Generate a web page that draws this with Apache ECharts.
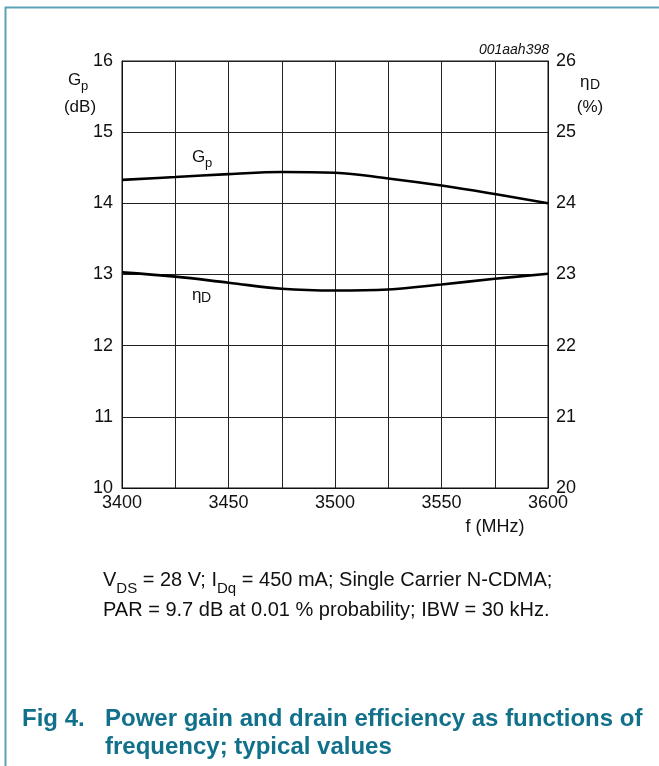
<!DOCTYPE html>
<html>
<head>
<meta charset="utf-8">
<script src="https://cdn.jsdelivr.net/npm/echarts@6/dist/echarts.min.js"></script>
<style>
  html, body { margin: 0; padding: 0; background: #fff; }
  #chart { width: 659px; height: 766px; }
</style>
</head>
<body>
<div id="chart"></div>
<script>
// Frequency points (MHz)
var freq = [3400, 3425, 3450, 3475, 3500, 3525, 3550, 3575, 3600];
// Power gain Gp (dB)
var gainDb = [14.33, 14.37, 14.41, 14.44, 14.43, 14.35, 14.25, 14.13, 14.0];
// Drain efficiency ηD (%)
var effPct = [23.03, 22.97, 22.885, 22.80, 22.775, 22.79, 22.86, 22.94, 23.01];
// X tick labels shown
var xTickLabels = [3400, 3450, 3500, 3550, 3600];

var FONT = 'Liberation Sans, Arial, sans-serif';

function pairs(xs, ys) {
  return xs.map(function (x, i) { return [x, ys[i]]; });
}

var chart = echarts.init(document.getElementById('chart'), null, { renderer: 'canvas' });

var gridLine = { show: true, lineStyle: { color: '#222', width: 1 } };
var axisTxt = { color: '#111', fontSize: 18, fontFamily: FONT };

chart.setOption({
  backgroundColor: '#fff',
  animation: false,
  grid: { left: 122, top: 61, width: 426, height: 427, show: true, borderColor: '#111', borderWidth: 1 },
  xAxis: {
    type: 'value', min: 3400, max: 3600, interval: 25,
    axisLine: { show: true, lineStyle: { color: '#111' } },
    axisTick: { show: false },
    splitLine: gridLine,
    axisLabel: Object.assign({
      margin: 6,
      formatter: function (v) { return xTickLabels.indexOf(v) >= 0 ? String(v) : ''; }
    }, axisTxt)
  },
  yAxis: [{
    type: 'value', min: 10, max: 16, interval: 1, position: 'left',
    axisLine: { show: true, lineStyle: { color: '#111' } },
    axisTick: { show: false },
    splitLine: gridLine,
    axisLabel: Object.assign({ margin: 9 }, axisTxt)
  }, {
    type: 'value', min: 20, max: 26, interval: 1, position: 'right',
    axisLine: { show: true, lineStyle: { color: '#111' } },
    axisTick: { show: false },
    splitLine: { show: false },
    axisLabel: Object.assign({ margin: 8 }, axisTxt)
  }],
  series: [{
    name: 'Gp', type: 'line', yAxisIndex: 0, smooth: 0.4, symbol: 'none',
    lineStyle: { color: '#000', width: 2.6 },
    data: pairs(freq, gainDb)
  }, {
    name: 'ηD', type: 'line', yAxisIndex: 1, smooth: 0.4, symbol: 'none',
    lineStyle: { color: '#000', width: 2.6 },
    data: pairs(freq, effPct)
  }],
  graphic: [
    // outer frame
    { type: 'polyline', shape: { points: [[5.5, 766], [5.5, 7.5], [659, 7.5]] },
      style: { stroke: '#5aa3b5', lineWidth: 2, fill: null } },
    // drawing id
    { type: 'text', x: 549, y: 50, style: { text: '001aah398', font: 'italic 14px ' + FONT, fill: '#111', align: 'right', verticalAlign: 'middle' } },
    // left axis title
    { type: 'text', x: 68, y: 80, style: { text: 'G', font: '17px ' + FONT, fill: '#111', verticalAlign: 'middle' } },
    { type: 'text', x: 81, y: 86, style: { text: 'p', font: '13px ' + FONT, fill: '#111', verticalAlign: 'middle' } },
    { type: 'text', x: 80, y: 107, style: { text: '(dB)', font: '17px ' + FONT, fill: '#111', align: 'center', verticalAlign: 'middle' } },
    // right axis title
    { type: 'text', x: 580, y: 82, style: { text: 'η', font: '17px ' + FONT, fill: '#111', verticalAlign: 'middle' } },
    { type: 'text', x: 590, y: 85, style: { text: 'D', font: '14px ' + FONT, fill: '#111', verticalAlign: 'middle' } },
    { type: 'text', x: 590, y: 107, style: { text: '(%)', font: '17px ' + FONT, fill: '#111', align: 'center', verticalAlign: 'middle' } },
    // curve labels
    { type: 'text', x: 192, y: 157, style: { text: 'G', font: '17px ' + FONT, fill: '#111', verticalAlign: 'middle' } },
    { type: 'text', x: 205, y: 163, style: { text: 'p', font: '13px ' + FONT, fill: '#111', verticalAlign: 'middle' } },
    { type: 'text', x: 192, y: 295, style: { text: 'η', font: '17px ' + FONT, fill: '#111', verticalAlign: 'middle' } },
    { type: 'text', x: 201, y: 298, style: { text: 'D', font: '14px ' + FONT, fill: '#111', verticalAlign: 'middle' } },
    // x axis title
    { type: 'text', x: 495, y: 527, style: { text: 'f (MHz)', font: '18px ' + FONT, fill: '#111', align: 'center', verticalAlign: 'middle' } },
    // conditions
    { type: 'text', x: 103, y: 570, style: {
        text: '{n|V}{s|DS}{n| = 28 V; I}{s|Dq}{n| = 450 mA; Single Carrier N-CDMA;}',
        fill: '#111',
        rich: {
          n: { fontSize: 20, fontFamily: FONT, lineHeight: 23, verticalAlign: 'top', fill: '#111' },
          s: { fontSize: 15, fontFamily: FONT, lineHeight: 16, verticalAlign: 'top', padding: [11, 0, 0, 0], fill: '#111' }
        } } },
    { type: 'text', x: 103, y: 610, style: { text: 'PAR = 9.7 dB at 0.01 % probability; IBW = 30 kHz.', font: '20px ' + FONT, fill: '#111', verticalAlign: 'middle' } },
    // figure caption
    { type: 'text', x: 22, y: 719, style: { text: 'Fig 4.', font: 'bold 24px ' + FONT, fill: '#11708a', verticalAlign: 'middle' } },
    { type: 'text', x: 105, y: 719, style: { text: 'Power gain and drain efficiency as functions of', font: 'bold 24px ' + FONT, fill: '#11708a', verticalAlign: 'middle' } },
    { type: 'text', x: 105, y: 747, style: { text: 'frequency; typical values', font: 'bold 24px ' + FONT, fill: '#11708a', verticalAlign: 'middle' } }
  ]
});
</script>
</body>
</html>
